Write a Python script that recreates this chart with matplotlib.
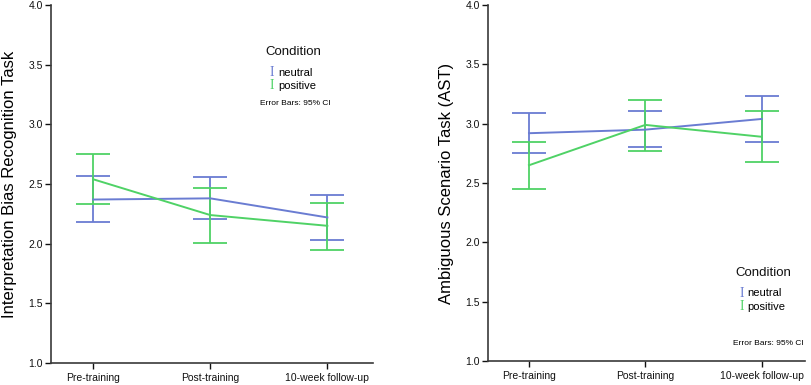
import matplotlib.pyplot as plt

# time points
phases = ["Pre-training", "Post-training", "10-week follow-up"]

# Interpretation Bias Recognition Task (means, CI low, CI high)
ibrt_neutral = [2.37, 2.38, 2.22]
ibrt_neutral_lo = [2.18, 2.21, 2.03]
ibrt_neutral_hi = [2.57, 2.56, 2.41]
ibrt_positive = [2.54, 2.24, 2.15]
ibrt_positive_lo = [2.33, 2.01, 1.95]
ibrt_positive_hi = [2.75, 2.47, 2.34]

# Ambiguous Scenario Task
ast_neutral = [2.92, 2.95, 3.04]
ast_neutral_lo = [2.75, 2.80, 2.85]
ast_neutral_hi = [3.09, 3.11, 3.23]
ast_positive = [2.65, 2.99, 2.89]
ast_positive_lo = [2.45, 2.77, 2.68]
ast_positive_hi = [2.85, 3.20, 3.11]

blue = "#6a7cd2"
green = "#4fd266"
axis_col = "#3a3a3a"

plt.rcParams["font.family"] = ["Liberation Sans", "DejaVu Sans"]

fig = plt.figure(figsize=(8.12, 3.85), dpi=100)
ax1 = fig.add_axes([0.0628, 0.057, 0.3966, 0.930])
ax2 = fig.add_axes([0.601, 0.062, 0.390, 0.925])


def draw_series(ax, means, lo, hi, color):
    x = list(range(len(means)))
    yerr = [[m - l for m, l in zip(means, lo)], [h - m for m, h in zip(means, hi)]]
    ax.plot(x, means, color=color, lw=1.4, zorder=3)
    ax.errorbar(x, means, yerr=yerr, fmt="none", ecolor=color, elinewidth=1.3,
                capsize=12.5, capthick=1.3, zorder=2)


def draw_legend(ax, x0, y0):
    ax.text(x0, y0, "Condition", transform=ax.transAxes, fontsize=9.5,
            color="#111111", va="center")
    ax.text(x0 + 0.02, y0 - 0.057, "I", transform=ax.transAxes, fontsize=10,
            family=["Liberation Serif"], color=blue, va="center", ha="center")
    ax.text(x0 + 0.04, y0 - 0.057, "neutral", transform=ax.transAxes,
            fontsize=8, va="center")
    ax.text(x0 + 0.02, y0 - 0.094, "I", transform=ax.transAxes, fontsize=10,
            family=["Liberation Serif"], color=green, va="center", ha="center")
    ax.text(x0 + 0.04, y0 - 0.094, "positive", transform=ax.transAxes,
            fontsize=8, va="center")


def style(ax, ylabel, xlim):
    ax.set_ylim(1.0, 4.0)
    ax.set_xlim(*xlim)
    ax.set_yticks([1.0, 1.5, 2.0, 2.5, 3.0, 3.5, 4.0])
    ax.set_yticklabels(["1.0", "1.5", "2.0", "2.5", "3.0", "3.5", "4.0"])
    ax.set_xticks(range(len(phases)))
    ax.set_xticklabels(phases)
    ax.tick_params(labelsize=7.5, colors="#111111", length=4, width=1,
                   direction="out", pad=2)
    ax.tick_params(axis="x", pad=3)
    for s in ["top", "right"]:
        ax.spines[s].set_visible(False)
    for s in ["left", "bottom"]:
        ax.spines[s].set_color(axis_col)
        ax.spines[s].set_linewidth(1.2)
    ax.set_ylabel(ylabel, fontsize=12, labelpad=8)


draw_series(ax1, ibrt_neutral, ibrt_neutral_lo, ibrt_neutral_hi, blue)
draw_series(ax1, ibrt_positive, ibrt_positive_lo, ibrt_positive_hi, green)
style(ax1, "Interpretation Bias Recognition Task", (-0.36, 2.39))
draw_legend(ax1, 0.665, 0.868)
ax1.text(0.65, 0.725, "Error Bars: 95% CI", transform=ax1.transAxes,
         fontsize=6, va="center")

draw_series(ax2, ast_neutral, ast_neutral_lo, ast_neutral_hi, blue)
draw_series(ax2, ast_positive, ast_positive_lo, ast_positive_hi, green)
style(ax2, "Ambiguous Scenario Task (AST)", (-0.352, 2.37))
draw_legend(ax2, 0.78, 0.247)
ax2.text(0.775, 0.05, "Error Bars: 95% CI", transform=ax2.transAxes,
         fontsize=6, va="center")

fig.savefig("out.png", dpi=100)
